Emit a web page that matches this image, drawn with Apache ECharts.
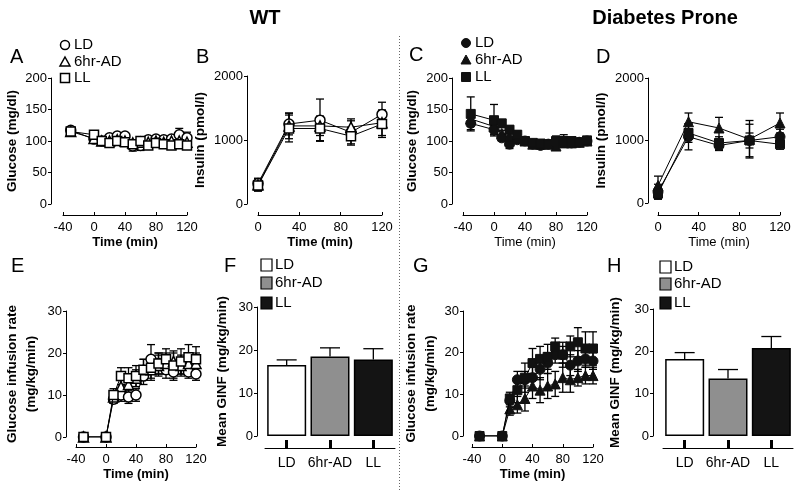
<!DOCTYPE html>
<html><head><meta charset="utf-8">
<script src="https://cdn.jsdelivr.net/npm/echarts@6/dist/echarts.min.js"></script>
<style>html,body{margin:0;padding:0;background:#fff}#c{width:800px;height:493px}</style>
</head><body><div id="c"></div>
<script>
const FONT = '"Liberation Sans", Arial, Helvetica, sans-serif';
const groups = ['LD', '6hr-AD', 'LL'];
const timeGlucose = [-30, 0, 10, 20, 30, 40, 50, 60, 70, 80, 90, 100, 110, 120];
const timeInsulin = [0, 30, 60, 90, 120];

// Panel A: WT glucose (mg/dl)
const wtGlucoseLD     = [117, 103, 100, 105, 108, 108, 92, 93, 102, 103, 102, 103, 110, 105];
const wtGlucoseLDErr  = [4, 3, 3, 3, 3, 3, 8, 8, 3, 3, 3, 4, 10, 9];
const wtGlucoseAD     = [115, 104, 100, 100, 102, 100, 97, 98, 98, 100, 98, 100, 100, 98];
const wtGlucoseADErr  = [3, 3, 3, 3, 3, 3, 3, 3, 3, 3, 3, 3, 3, 3];
const wtGlucoseLL     = [115, 110, 100, 97, 100, 98, 95, 100, 93, 97, 95, 93, 95, 93];
const wtGlucoseLLErr  = [3, 4, 3, 3, 3, 3, 3, 3, 3, 3, 3, 3, 3, 3];

// Panel B: WT insulin (pmol/l)
const wtInsulinLD     = [320, 1250, 1310, 1120, 1400];
const wtInsulinLDErr  = [80, 170, 330, 180, 190];
const wtInsulinAD     = [300, 1220, 1220, 1200, 1270];
const wtInsulinADErr  = [100, 200, 150, 130, 200];
const wtInsulinLL     = [290, 1180, 1180, 1060, 1250];
const wtInsulinLLErr  = [80, 210, 190, 140, 210];

// Panel C: Diabetes Prone glucose (mg/dl)
const dpGlucoseLD     = [128, 118, 105, 95, 102, 100, 95, 93, 95, 97, 98, 97, 98, 100];
const dpGlucoseLDErr  = [10, 8, 5, 7, 5, 4, 4, 3, 3, 4, 5, 4, 4, 3];
const dpGlucoseAD     = [135, 123, 112, 108, 105, 100, 95, 95, 95, 92, 97, 97, 98, 100];
const dpGlucoseADErr  = [12, 10, 5, 5, 5, 4, 3, 3, 3, 6, 6, 4, 3, 3];
const dpGlucoseLL     = [143, 133, 128, 118, 110, 100, 97, 96, 95, 100, 100, 100, 98, 101];
const dpGlucoseLLErr  = [27, 25, 6, 6, 6, 4, 3, 3, 3, 8, 10, 4, 3, 3];

// Panel D: Diabetes Prone insulin (pmol/l)
const dpInsulinLD     = [180, 1060, 920, 1000, 1060];
const dpInsulinLDErr  = [120, 210, 80, 260, 120];
const dpInsulinAD     = [280, 1300, 1200, 1020, 1280];
const dpInsulinADErr  = [150, 140, 170, 300, 160];
const dpInsulinLL     = [150, 1120, 960, 1000, 940];
const dpInsulinLLErr  = [80, 150, 100, 120, 80];

// Panel E: WT glucose infusion rate (mg/kg/min)
const wtGinfLD        = [0, 0, 9, 10, 9.5, 10, 14.5, 18.5, 17.5, 16, 15.5, 17, 15.5, 15];
const wtGinfLDErr     = [0, 0, 1, 1.5, 1.5, 1.5, 2, 3.5, 2.5, 2, 2, 2, 1.5, 1.5];
const wtGinfAD        = [0, 0, 9.5, 12, 12.5, 14, 16, 16, 17, 17.5, 18, 17, 17.5, 17.5];
const wtGinfADErr     = [0, 0, 1.5, 2, 2, 2, 2.5, 2.5, 2.5, 2.5, 2.5, 2.5, 2.5, 2.5];
const wtGinfLL        = [0, 0, 10, 14.5, 14, 14.5, 16, 16.5, 17.5, 18.5, 17, 18, 19, 18.5];
const wtGinfLLErr     = [0, 0, 1.5, 2, 2.5, 2.5, 2.5, 2.5, 2.5, 2.5, 3, 3, 3, 3];

// Panel G: Diabetes Prone glucose infusion rate (mg/kg/min)
const dpGinfLD        = [0, 0, 8.5, 13.5, 13.5, 14, 16, 17.5, 19.5, 19.5, 17, 18, 18.5, 18];
const dpGinfLDErr     = [0, 0, 1.5, 2, 2, 2.5, 2.5, 2.5, 2, 2, 2.5, 2.5, 2, 2];
const dpGinfAD        = [0, 0, 6.5, 7.5, 9, 12, 11, 12, 12.5, 14, 13.5, 14, 14.5, 14.5];
const dpGinfADErr     = [0, 0, 1.5, 2, 3, 3, 3, 3, 3, 3.5, 3, 2, 2, 2];
const dpGinfLL        = [0, 0, 9, 11, 14, 17.5, 18.5, 19, 21.5, 19.5, 21.5, 22.5, 21, 21];
const dpGinfLLErr     = [0, 0, 1.5, 3, 3.5, 3.5, 3, 3, 2, 3, 2.5, 3.5, 4, 4];

// Panels F, H: mean GINF (mg/kg/min)
const wtMeanGinf      = [16.5, 18.5, 17.8];
const wtMeanGinfErr   = [1.2, 2.0, 2.5];
const dpMeanGinf      = [18.2, 13.6, 20.8];
const dpMeanGinfErr   = [1.5, 2.1, 2.7];

const option = {
  animation: false, backgroundColor: '#fff',
  textStyle: { fontFamily: FONT, color: '#000' },
  grid: [], xAxis: [], yAxis: [], series: [], graphic: []
};

function errRender(halfCap, upOnly) {
  return function (params, api) {
    const x = api.value(0), m = api.value(1), e = api.value(2);
    if (!e) return null;
    const top = api.coord([x, m + e]);
    const bot = api.coord([x, upOnly ? m : m - e]);
    const st = { stroke: '#000', lineWidth: 1.3 };
    const ch = [
      { type: 'line', shape: { x1: top[0], y1: top[1], x2: bot[0], y2: bot[1] }, style: st },
      { type: 'line', shape: { x1: top[0] - halfCap, y1: top[1], x2: top[0] + halfCap, y2: top[1] }, style: st }
    ];
    if (!upOnly) ch.push({ type: 'line', shape: { x1: bot[0] - halfCap, y1: bot[1], x2: bot[0] + halfCap, y2: bot[1] }, style: st });
    return { type: 'group', children: ch };
  };
}

const axisLbl = { color: '#000', fontSize: 13, fontFamily: FONT, formatter: v => String(v) };
const symbols = ['circle', 'triangle', 'rect'];
const symSizes = [10, 10, 9];

function linePanel(p) {
  const gi = option.grid.length;
  option.grid.push(Object.assign({ containLabel: false }, p.box));
  option.xAxis.push({
    gridIndex: gi, type: 'value', min: p.x[0], max: p.x[1], interval: p.x[2], offset: p.xOff,
    axisLine: { show: true, onZero: false, lineStyle: { color: '#000', width: 1 } },
    axisTick: { show: true, inside: true, length: 3, lineStyle: { color: '#000' } },
    axisLabel: Object.assign({ margin: 6 }, axisLbl),
    splitLine: { show: false },
    name: 'Time (min)', nameLocation: 'middle', nameGap: p.xGap,
    nameTextStyle: { fontSize: 13, fontWeight: p.xBold ? 'bold' : 'normal', color: '#000', fontFamily: FONT }
  });
  option.yAxis.push({
    gridIndex: gi, type: 'value', min: p.y[0], max: p.y[1], interval: p.y[2], offset: p.yOff,
    axisLine: { show: true, onZero: false, lineStyle: { color: '#000', width: 1 } },
    axisTick: { show: true, length: 3, lineStyle: { color: '#000' } },
    axisLabel: Object.assign({ margin: 4 }, axisLbl),
    splitLine: { show: false },
    name: p.yName, nameLocation: 'middle', nameGap: p.yGap,
    nameTextStyle: { fontSize: 13.5, fontWeight: 'bold', color: '#000', fontFamily: FONT, lineHeight: 19 }
  });
  p.series.forEach((s) => {
    const vals = s[0], errs = s[1];
    option.series.push({
      type: 'custom', xAxisIndex: gi, yAxisIndex: gi, z: 1, silent: true,
      renderItem: errRender(p.cap, false),
      data: p.xs.map((t, i) => [t, vals[i], errs[i]]),
      encode: { x: 0, y: 1 }
    });
  });
  p.series.forEach((s, k) => {
    const vals = s[0];
    option.series.push({
      type: 'line', name: groups[k], xAxisIndex: gi, yAxisIndex: gi, z: 3 + k,
      data: p.xs.map((t, i) => [t, vals[i]]),
      symbol: symbols[k], symbolSize: symSizes[k], showSymbol: true,
      lineStyle: { color: '#000', width: 1 },
      itemStyle: p.filled ? { color: '#111', borderColor: '#111', borderWidth: 1 }
                          : { color: '#fff', borderColor: '#000', borderWidth: 1.5 },
      emphasis: { disabled: true }
    });
  });
}

function barPanel(p) {
  const gi = option.grid.length;
  option.grid.push(Object.assign({ containLabel: false }, p.box));
  option.xAxis.push({
    gridIndex: gi, type: 'category', data: groups, offset: p.xOff,
    axisLine: { show: true, onZero: false, lineStyle: { color: '#000', width: 1 } },
    axisTick: { show: true, inside: true, alignWithLabel: true, length: 8, lineStyle: { color: '#000', width: 3 } },
    axisLabel: Object.assign({}, axisLbl, { margin: 8, interval: 0, fontSize: 14 }),
    splitLine: { show: false }
  });
  option.yAxis.push({
    gridIndex: gi, type: 'value', min: 0, max: 30, interval: 10, offset: p.yOff,
    axisLine: { show: true, onZero: false, lineStyle: { color: '#000', width: 1 } },
    axisTick: { show: true, length: 3, lineStyle: { color: '#000' } },
    axisLabel: Object.assign({ margin: 4 }, axisLbl),
    splitLine: { show: false },
    name: 'Mean GINF (mg/kg/min)', nameLocation: 'middle', nameGap: p.yGap,
    nameTextStyle: { fontSize: 13.5, fontWeight: 'bold', color: '#000', fontFamily: FONT }
  });
  const fills = ['#ffffff', '#8f8f8f', '#141414'];
  option.series.push({
    type: 'bar', xAxisIndex: gi, yAxisIndex: gi, barWidth: 39, z: 2,
    data: p.vals.map((v, i) => ({ value: v, itemStyle: { color: fills[i], borderColor: '#000', borderWidth: 1.5 } })),
    emphasis: { disabled: true }
  });
  option.series.push({
    type: 'custom', xAxisIndex: gi, yAxisIndex: gi, z: 1, silent: true,
    renderItem: errRender(10, true),
    data: p.vals.map((v, i) => [i, v, p.errs[i]]),
    encode: { x: 0, y: 1 }
  });
}

linePanel({ box: { left: 63, top: 78, width: 124, height: 126 }, xOff: 11, yOff: 12, x: [-40, 120, 40], y: [0, 200, 50],
  xs: timeGlucose, series: [[wtGlucoseLD, wtGlucoseLDErr], [wtGlucoseAD, wtGlucoseADErr], [wtGlucoseLL, wtGlucoseLLErr]],
  filled: false, yName: 'Glucose (mg/dl)', yGap: 29, xGap: 21, xBold: true, cap: 4 });
linePanel({ box: { left: 258, top: 76, width: 124, height: 128 }, xOff: 11, yOff: 11, x: [0, 120, 40], y: [0, 2000, 1000],
  xs: timeInsulin, series: [[wtInsulinLD, wtInsulinLDErr], [wtInsulinAD, wtInsulinADErr], [wtInsulinLL, wtInsulinLLErr]],
  filled: false, yName: 'Insulin (pmol/l)', yGap: 37, xGap: 21, xBold: true, cap: 4 });
linePanel({ box: { left: 463, top: 78, width: 124, height: 126 }, xOff: 11, yOff: 11, x: [-40, 120, 40], y: [0, 200, 50],
  xs: timeGlucose, series: [[dpGlucoseLD, dpGlucoseLDErr], [dpGlucoseAD, dpGlucoseADErr], [dpGlucoseLL, dpGlucoseLLErr]],
  filled: true, yName: 'Glucose (mg/dl)', yGap: 30, xGap: 21, xBold: false, cap: 4 });
linePanel({ box: { left: 658, top: 78, width: 122, height: 125 }, xOff: 12, yOff: 10, x: [0, 120, 40], y: [0, 2000, 1000],
  xs: timeInsulin, series: [[dpInsulinLD, dpInsulinLDErr], [dpInsulinAD, dpInsulinADErr], [dpInsulinLL, dpInsulinLLErr]],
  filled: true, yName: 'Insulin (pmol/l)', yGap: 36, xGap: 21, xBold: false, cap: 4 });
linePanel({ box: { left: 76, top: 311, width: 120, height: 126 }, xOff: 10, yOff: 10, x: [-40, 120, 40], y: [0, 30, 10],
  xs: timeGlucose, series: [[wtGinfLD, wtGinfLDErr], [wtGinfAD, wtGinfADErr], [wtGinfLL, wtGinfLLErr]],
  filled: false, yName: 'Glucose infusion rate\n(mg/kg/min)', yGap: 25, xGap: 21, xBold: true, cap: 4 });
linePanel({ box: { left: 472, top: 311, width: 121, height: 125 }, xOff: 11, yOff: 9, x: [-40, 120, 40], y: [0, 30, 10],
  xs: timeGlucose, series: [[dpGinfLD, dpGinfLDErr], [dpGinfAD, dpGinfADErr], [dpGinfLL, dpGinfLLErr]],
  filled: true, yName: 'Glucose infusion rate\n(mg/kg/min)', yGap: 23, xGap: 21, xBold: true, cap: 4 });
barPanel({ box: { left: 265, top: 307, width: 130, height: 129 }, xOff: 12, yOff: 8, vals: wtMeanGinf, errs: wtMeanGinfErr, yGap: 28 });
barPanel({ box: { left: 663, top: 309, width: 130, height: 127 }, xOff: 12, yOff: 10, vals: dpMeanGinf, errs: dpMeanGinfErr, yGap: 31 });

// Text decorations: titles, panel letters, divider, legends
function txt(text, x, y, size, weight, align) {
  return { type: 'text', x: x, y: y, silent: true, z: 100,
    style: { text: text, fill: '#000', font: (weight || 'normal') + ' ' + size + 'px ' + FONT,
      align: align || 'left', verticalAlign: 'middle' } };
}
const G = option.graphic;
G.push(txt('WT', 265, 18, 20, 'bold', 'center'));
G.push(txt('Diabetes Prone', 665, 18, 20, 'bold', 'center'));
[['A', 10, 57], ['B', 196, 57], ['C', 409, 55], ['D', 596, 57], ['E', 11, 266], ['F', 224, 266], ['G', 413, 266], ['H', 607, 266]]
  .forEach(l => G.push(txt(l[0], l[1], l[2], 20, 'normal', 'left')));
G.push({ type: 'line', silent: true, shape: { x1: 399.5, y1: 36, x2: 399.5, y2: 492 },
  style: { stroke: '#666', lineWidth: 1, lineDash: [1, 2] } });

function symLegend(x, ys, filled) {
  const fill = filled ? '#111' : '#fff', stroke = filled ? '#111' : '#000', lw = filled ? 1 : 1.5;
  G.push({ type: 'circle', silent: true, shape: { cx: x, cy: ys[0], r: 4.5 }, style: { fill: fill, stroke: stroke, lineWidth: lw } });
  G.push({ type: 'polygon', silent: true, shape: { points: [[x, ys[1] - 5], [x + 5, ys[1] + 4], [x - 5, ys[1] + 4]] }, style: { fill: fill, stroke: stroke, lineWidth: lw } });
  G.push({ type: 'rect', silent: true, shape: { x: x - 4.5, y: ys[2] - 4.5, width: 9, height: 9 }, style: { fill: fill, stroke: stroke, lineWidth: lw } });
  groups.forEach((g, i) => G.push(txt(g, x + 9, ys[i], 15, 'normal', 'left')));
}
symLegend(65, [45, 62, 78], false);
symLegend(466, [43, 60, 77], true);

function boxLegend(x, ys) {
  const fills = ['#ffffff', '#8f8f8f', '#141414'];
  groups.forEach((g, i) => {
    G.push({ type: 'rect', silent: true, shape: { x: x, y: ys[i] - 6, width: 11, height: 12 }, style: { fill: fills[i], stroke: '#000', lineWidth: 1.2 } });
    G.push(txt(g, x + 14, ys[i], 15, 'normal', 'left'));
  });
}
boxLegend(261, [265, 283, 303]);
boxLegend(660, [267, 284, 303]);

const chart = echarts.init(document.getElementById('c'), null, { renderer: 'canvas' });
chart.setOption(option);
</script>
</body></html>
